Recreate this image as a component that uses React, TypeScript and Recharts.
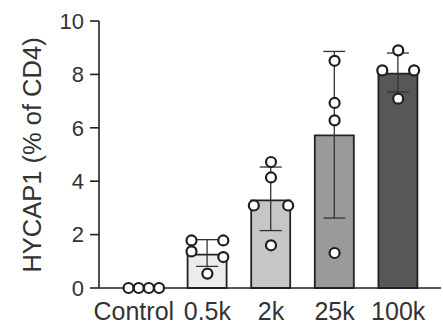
import React from 'react';
import { ComposedChart, Bar, XAxis, YAxis, ErrorBar, Scatter, Cell } from 'recharts';

const categories = ['Control', '0.5k', '2k', '25k', '100k'];
const means = [0, 1.25, 3.28, 5.72, 8.03];
const errLow = [0, 0.44, 1.13, 3.1, 0.69];
const errHigh = [0, 0.56, 1.25, 3.14, 0.77];
const points = [
  [0, 0, 0, 0],
  [1.78, 1.78, 1.37, 1.16, 0.54],
  [4.72, 4.14, 3.09, 3.09, 1.6],
  [8.51, 6.93, 6.28, 1.31],
  [8.9, 8.15, 8.15, 7.09],
];
const jitter = [
  [-0.24, -0.08, 0.08, 0.24],
  [-0.25, 0.25, -0.25, 0.25, 0],
  [0, 0, -0.27, 0.27, 0],
  [0, 0, 0, 0],
  [0, -0.25, 0.25, 0],
];
const yTicks = [0, 2, 4, 6, 8, 10];
const barColors = ['#ffffff', '#ececec', '#c6c6c6', '#9a9a9a', '#575757'];

const barData = categories.map((name, i) => ({
  name,
  mean: means[i],
  err: [errLow[i], errHigh[i]],
}));
const dotData = points.flatMap((vals, gi) =>
  vals.map((v, j) => ({ gx: gi + jitter[gi][j], v }))
);

const FONT = '"Liberation Sans", Arial, sans-serif';

const XTick = (props: any) => {
  const { x, y, payload, index } = props;
  return (
    <text
      x={x + (index === 0 ? -10 : 0)}
      y={y}
      dy="0.71em"
      textAnchor="middle"
      fontSize={25}
      fill="#333"
      fontFamily={FONT}
    >
      {payload.value}
    </text>
  );
};

const YLabel = (props: any) => {
  const vb = props.viewBox || {};
  const cx = (vb.x || 0) + 41;
  const cy = 155;
  return (
    <text
      x={cx}
      y={cy}
      transform={`rotate(-90, ${cx}, ${cy})`}
      textAnchor="middle"
      fontSize={25.5}
      fill="#333"
      fontFamily={FONT}
    >
      HYCAP1 (% of CD4)
    </text>
  );
};

const Dot = (props: any) => (
  <circle cx={props.cx} cy={props.cy} r={5} fill="#fff" stroke="#1e1e1e" strokeWidth={2.2} />
);

export default function App() {
  return (
    <div style={{ position: 'absolute', left: 0, top: 0, background: '#fff' }}>
      <ComposedChart
        width={443}
        height={329}
        data={barData}
        margin={{ top: 21, right: 2, left: 0, bottom: 0 }}
      >
        <XAxis
          xAxisId="cat"
          dataKey="name"
          type="category"
          padding={{ left: 13, right: 11 }}
          height={41}
          tickLine={false}
          tickSize={0}
          tickMargin={14}
          axisLine={{ stroke: '#222', strokeWidth: 1.6 }}
          tick={<XTick />}
          interval={0}
        />
        <XAxis
          xAxisId="num"
          dataKey="gx"
          type="number"
          domain={[-0.5, 4.5]}
          padding={{ left: 13, right: 11 }}
          hide
        />
        <YAxis
          width={99}
          domain={[0, 10]}
          ticks={yTicks}
          interval={0}
          tickSize={9}
          tickMargin={6}
          axisLine={{ stroke: '#222', strokeWidth: 1.6 }}
          tickLine={{ stroke: '#222', strokeWidth: 1.6 }}
          tick={{ fontSize: 22, fill: '#333', fontFamily: FONT }}
          label={<YLabel />}
        />
        <Bar
          xAxisId="cat"
          dataKey="mean"
          barSize={39}
          stroke="#222"
          strokeWidth={1.8}
          isAnimationActive={false}
        >
          {barData.map((d, i) => (
            <Cell key={d.name} fill={barColors[i]} />
          ))}
          <ErrorBar dataKey="err" width={11} stroke="#333" strokeWidth={1.3} direction="y" />
        </Bar>
        <Scatter
          xAxisId="num"
          data={dotData}
          dataKey="v"
          isAnimationActive={false}
          shape={<Dot />}
        />
      </ComposedChart>
    </div>
  );
}
